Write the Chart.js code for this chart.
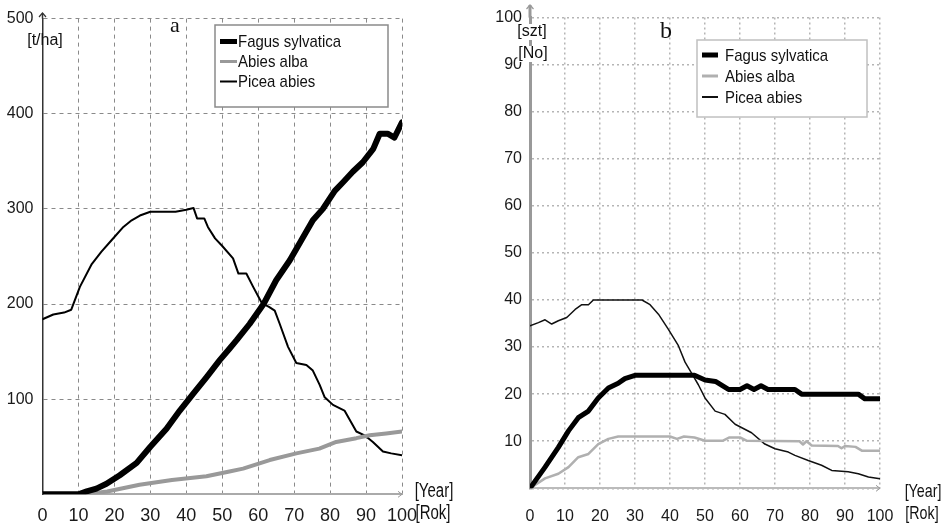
<!DOCTYPE html>
<html>
<head>
<meta charset="utf-8">
<script src="https://cdn.jsdelivr.net/npm/chart.js@4.4.1/dist/chart.umd.min.js"></script>
<style>
  html, body { margin: 0; padding: 0; background: #fff; }
  #wrap-a { position: absolute; left: 0; top: 0; width: 470px; height: 527px; }
  #wrap-b { position: absolute; left: 470px; top: 0; width: 481px; height: 527px; }
</style>
</head>
<body>
<div id="wrap-a"><canvas id="chart-a"></canvas></div>
<div id="wrap-b"><canvas id="chart-b"></canvas></div>
<script>
// Data definitions
const speciesLabels = ['Fagus sylvatica', 'Abies alba', 'Picea abies'];

// panel a: biomass [t/ha]
const fagusYearsA = [0, 10, 12.3, 15, 17.8, 21.5, 26.2, 30, 34.5, 38.2, 42, 45.6, 49.3, 52, 54, 57.6, 61.5, 65, 68.8, 72, 75.2, 78, 81.3, 83.6, 86.3, 89.1, 92, 93.8, 96, 97.9, 100];
const fagusMassA = [0, 0, 3, 6, 11, 20, 33, 50, 69, 88, 106, 123, 141, 153, 162, 179, 200, 225, 246, 267, 288, 300, 319, 328, 339, 349, 363, 379, 379, 375, 391];
const abiesYearsA = [0, 12, 18, 27, 36, 45.6, 52, 55.8, 63.2, 70.6, 77, 81.7, 87.3, 91, 95.6, 100];
const abiesMassA = [0, 0, 3, 10, 15, 19, 24, 27, 36, 43, 48, 55, 59, 62, 64, 66];
const piceaYearsA = [0, 3, 6, 8, 10.4, 13.7, 16.4, 19.2, 22.5, 24.8, 27.1, 30, 37, 40, 42, 43, 45, 46, 48, 50, 53, 54.5, 56.7, 58.6, 61, 63, 64.6, 66, 68.3, 70.6, 73.4, 75.2, 77.1, 78.5, 80.8, 84, 87.3, 89.6, 91.9, 94.7, 97, 100];
const piceaMassA = [184, 189, 191, 194, 218, 242, 255, 267, 281, 288, 293, 297, 297, 299, 301, 290, 290, 281, 269, 261, 248, 232, 232, 218, 201, 197, 193, 179, 155, 138, 136, 130, 115, 102, 94, 88, 66, 62, 55, 45, 43, 41];

// panel b: number of trees [szt]
const fagusYearsB = [0, 4.3, 8.1, 11, 13.8, 16.7, 19.5, 22.4, 25.2, 27.1, 30, 47, 50, 53, 56.7, 60, 62, 64, 66, 68, 75.7, 77.6, 93.8, 95.7, 100];
const fagusCountB = [0, 4.5, 8.7, 12.2, 15, 16.4, 19.2, 21.3, 22.3, 23.3, 24, 24, 23, 22.7, 21, 21, 21.8, 21, 21.8, 21, 21, 20, 20, 19, 19];
const abiesYearsB = [0, 4.3, 8.1, 11, 13.8, 16.7, 19.5, 22.4, 25.2, 40, 42, 44, 47, 50, 55, 57, 60, 62, 77, 78, 79, 80.5, 88, 89, 90, 93, 94.8, 100];
const abiesCountB = [0, 2.1, 3.1, 4.5, 6.6, 7.3, 9.4, 10.5, 11, 11, 10.5, 11, 10.8, 10.1, 10.1, 10.8, 10.8, 10.1, 10, 9.3, 10, 9.1, 9, 8.5, 9, 8.8, 8, 8];
const piceaYearsB = [0, 2.4, 4.3, 6.2, 8.1, 10.5, 12.9, 14.8, 16.7, 18.1, 32, 34.3, 36.7, 39.5, 42.4, 44.3, 46.2, 48.1, 50, 52.9, 55.7, 58.6, 63.3, 67.1, 70, 73.8, 75.7, 79.5, 83.3, 86.2, 90.9, 93.8, 96.7, 99.5, 100];
const piceaCountB = [34.5, 35.2, 35.8, 34.9, 35.6, 36.3, 38, 39, 39, 40, 40, 39, 37, 33.8, 30.3, 26.8, 24.4, 22, 19.2, 16.4, 15.7, 13.6, 11.8, 9.4, 8.4, 7.7, 7, 5.9, 4.9, 3.8, 3.5, 3.1, 2.4, 2.1, 2];

function toPoints(xs, ys) {
  return xs.map((x, i) => ({ x: x, y: ys[i] }));
}

const plainFont = '"Liberation Sans", Arial, sans-serif';

// Decorations: legend box, panel letter, unit labels, axis arrows
const decoPlugin = {
  id: 'deco',
  afterDraw(chart, args, o) {
    const ctx = chart.ctx;
    const area = chart.chartArea;
    ctx.save();

    // y axis arrow
    ctx.strokeStyle = o.yAxisColor;
    ctx.lineWidth = o.yAxisWidth;
    ctx.beginPath();
    ctx.moveTo(area.left, area.top);
    ctx.lineTo(area.left, o.arrowTop);
    ctx.stroke();
    ctx.lineWidth = 1.2;
    ctx.beginPath();
    ctx.moveTo(area.left - 3.5, o.arrowTop + 4);
    ctx.lineTo(area.left, o.arrowTop);
    ctx.lineTo(area.left + 3.5, o.arrowTop + 4);
    ctx.stroke();

    // x axis arrow
    ctx.strokeStyle = '#999';
    ctx.lineWidth = 1;
    ctx.beginPath();
    ctx.moveTo(area.right - 4, area.bottom - 3);
    ctx.lineTo(area.right, area.bottom);
    ctx.lineTo(area.right - 4, area.bottom + 3);
    ctx.stroke();

    // unit labels (some a bit condensed like the original)
    ctx.textBaseline = 'middle';
    o.units.forEach(u => {
      ctx.font = u.font;
      const sx = u.sx || 1;
      const w = ctx.measureText(u.text).width * sx;
      if (u.bg) {
        ctx.fillStyle = '#fff';
        ctx.fillRect(u.x - w / 2 - 1, u.y - 8, w + 2, 16);
      }
      ctx.fillStyle = '#111';
      ctx.save();
      ctx.translate(u.x - w / 2, u.y);
      ctx.scale(sx, 1);
      ctx.textAlign = 'left';
      ctx.fillText(u.text, 0, 0);
      ctx.restore();
    });

    // panel letter
    ctx.textAlign = 'center';
    ctx.font = o.letter.font;
    ctx.fillStyle = '#111';
    ctx.fillText(o.letter.text, o.letter.x, o.letter.y);

    // legend
    const lg = o.legend;
    ctx.fillStyle = '#fff';
    ctx.fillRect(lg.x, lg.y, lg.w, lg.h);
    ctx.strokeStyle = lg.border;
    ctx.lineWidth = 1.5;
    ctx.strokeRect(lg.x, lg.y, lg.w, lg.h);
    ctx.textAlign = 'left';
    ctx.font = lg.font;
    chart.data.datasets.forEach((ds, i) => {
      const yy = lg.rowY[i];
      ctx.strokeStyle = ds.borderColor;
      ctx.lineWidth = lg.markerWidths[i];
      ctx.lineCap = 'butt';
      ctx.beginPath();
      ctx.moveTo(lg.markerX1, yy);
      ctx.lineTo(lg.markerX2, yy);
      ctx.stroke();
      ctx.fillStyle = '#111';
      ctx.save();
      ctx.translate(lg.textX, yy + 1);
      ctx.scale(lg.sx, 1);
      ctx.fillText(ds.label, 0, 0);
      ctx.restore();
    });
    ctx.restore();
  }
};

function buildChart(id, cfg) {
  return new Chart(document.getElementById(id).getContext('2d'), {
    type: 'line',
    data: {
      datasets: cfg.series.map((s, i) => ({
        label: speciesLabels[i],
        data: s.points,
        borderColor: s.color,
        borderWidth: s.width,
        pointRadius: 0,
        tension: 0,
        fill: false,
        borderJoinStyle: 'round',
        borderCapStyle: 'round'
      }))
    },
    options: {
      responsive: true,
      maintainAspectRatio: false,
      animation: false,
      layout: { padding: cfg.padding },
      plugins: {
        legend: { display: false },
        tooltip: { enabled: false },
        deco: cfg.deco
      },
      scales: {
        x: {
          type: 'linear',
          min: 0,
          max: 100,
          afterFit: scale => { scale.height = cfg.xHeight; },
          ticks: {
            stepSize: 10,
            autoSkip: false,
            maxRotation: 0,
            minRotation: 0,
            padding: cfg.xTickPad,
            color: '#1a1a1a',
            font: { family: plainFont, size: cfg.xFont }
          },
          grid: { color: cfg.gridColor, lineWidth: cfg.gridWidth, drawTicks: false },
          border: { display: true, color: cfg.xAxisColor, width: cfg.xAxisWidth, dash: cfg.gridDash }
        },
        y: {
          min: 0,
          max: cfg.yMax,
          afterFit: scale => { scale.width = cfg.yWidth; },
          ticks: {
            stepSize: cfg.yStep,
            padding: cfg.yTickPad,
            color: '#1a1a1a',
            font: { family: plainFont, size: 16 },
            callback: v => (v === 0 ? '' : v)
          },
          grid: { color: cfg.gridColor, lineWidth: cfg.gridWidth, drawTicks: false },
          border: { display: true, color: cfg.deco.yAxisColor, width: cfg.deco.yAxisWidth, dash: cfg.gridDash }
        }
      }
    },
    plugins: [decoPlugin]
  });
}

// panel a
buildChart('chart-a', {
  series: [
    { points: toPoints(fagusYearsA, fagusMassA), color: '#000', width: 6 },
    { points: toPoints(abiesYearsA, abiesMassA), color: '#999', width: 4 },
    { points: toPoints(piceaYearsA, piceaMassA), color: '#000', width: 2 }
  ],
  padding: { top: 17.8, right: 68, left: 0, bottom: 0 },
  xHeight: 32.7,
  yWidth: 42.5,
  yMax: 500,
  yStep: 100,
  xFont: 18,
  xTickPad: 11,
  yTickPad: 9,
  gridColor: '#8a8a8a',
  gridWidth: 1,
  gridDash: [4, 4],
  xAxisColor: '#aaa',
  xAxisWidth: 2,
  deco: {
    yAxisColor: '#333',
    yAxisWidth: 1.5,
    arrowTop: 13,
    units: [
      { text: '[t/ha]', x: 45, y: 41, font: '16px ' + plainFont },
      { text: '[Year]', x: 434, y: 491, font: '20px ' + plainFont, sx: 0.75 },
      { text: '[Rok]', x: 433, y: 513, font: '20px ' + plainFont, sx: 0.75 }
    ],
    letter: { text: 'a', x: 175, y: 26, font: '22px "Liberation Serif", "Times New Roman", serif' },
    legend: {
      x: 215, y: 25, w: 173, h: 82, border: '#8a8a8a',
      font: '17px ' + plainFont, sx: 0.88,
      rowY: [41.5, 61.5, 81.5],
      markerX1: 220, markerX2: 237, textX: 238,
      markerWidths: [5, 3, 2]
    }
  }
});

// panel b
buildChart('chart-b', {
  series: [
    { points: toPoints(fagusYearsB, fagusCountB), color: '#000', width: 5 },
    { points: toPoints(abiesYearsB, abiesCountB), color: '#b0b0b0', width: 2.5 },
    { points: toPoints(piceaYearsB, piceaCountB), color: '#111', width: 1.5 }
  ],
  padding: { top: 10, right: 71, left: 0, bottom: 0 },
  xHeight: 38.7,
  yWidth: 60,
  yMax: 100,
  yStep: 10,
  xFont: 16,
  xTickPad: 19,
  yTickPad: 8,
  gridColor: '#b5b5b5',
  gridWidth: 1.5,
  gridDash: [2, 3],
  xAxisColor: '#bbb',
  xAxisWidth: 2,
  deco: {
    yAxisColor: '#999',
    yAxisWidth: 3,
    arrowTop: 5,
    units: [
      { text: '[szt]', x: 62, y: 32, font: '16px ' + plainFont, bg: true },
      { text: '[No]', x: 63, y: 54, font: '16px ' + plainFont, bg: true },
      { text: '[Year]', x: 453, y: 492, font: '19px ' + plainFont, sx: 0.75 },
      { text: '[Rok]', x: 452, y: 514, font: '19px ' + plainFont, sx: 0.75 }
    ],
    letter: { text: 'b', x: 196, y: 32, font: '24px "Liberation Serif", "Times New Roman", serif' },
    legend: {
      x: 227, y: 40, w: 170, h: 77, border: '#c0c0c0',
      font: '17px ' + plainFont, sx: 0.88,
      rowY: [55, 76, 97],
      markerX1: 232, markerX2: 248, textX: 255,
      markerWidths: [5, 3, 2]
    }
  }
});
</script>
</body>
</html>
